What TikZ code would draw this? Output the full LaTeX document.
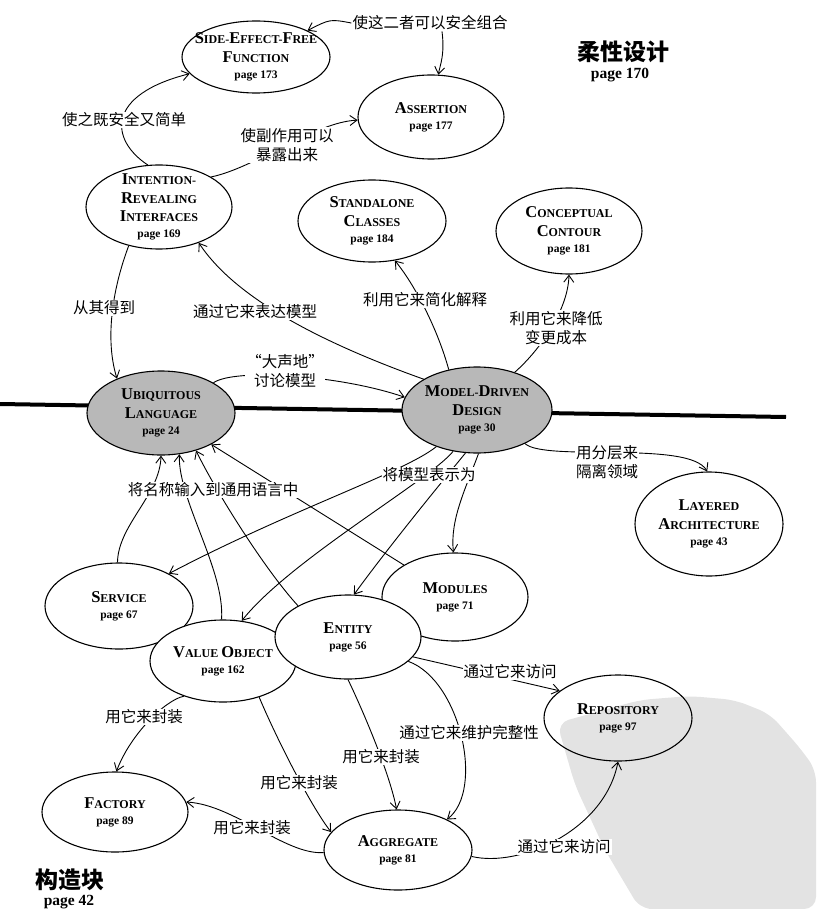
\documentclass[tikz,border=0pt]{standalone}
\usepackage{fontspec}
\setmainfont{Liberation Serif}
\newfontfamily\cjk{Noto Sans CJK SC}
\usetikzlibrary{shapes.geometric,arrows.meta}
\pgfdeclarelayer{back}
\pgfdeclarelayer{mid}
\pgfsetlayers{back,mid,main}
\newcommand{\Cp}[1]{{\fontsize{16.5}{18.5}\selectfont #1}}
\newcommand{\pgn}[1]{{\fontsize{11.5}{13}\selectfont page #1}}
\begin{document}
\begin{tikzpicture}[x=1pt, y=-1pt,
  ell/.style={ellipse, draw, line width=1.1pt, fill=white, inner sep=0pt},
  greyfill/.style={fill=black!28},
  ntext/.style={align=center, font=\bfseries\fontsize{12}{18.5}\selectfont, inner sep=0pt},
  lab/.style={align=center, font=\cjk\fontsize{15.5}{19}\selectfont, fill=white, inner sep=1pt},
  conn/.style={line width=0.9pt, -{Straight Barb[length=7pt,width=10pt]}},
  ttl/.style={font=\cjk\bfseries\fontsize{23}{26}\selectfont, inner sep=0pt},
  ttlpg/.style={font=\bfseries\fontsize{15.5}{17}\selectfont, inner sep=0pt}]
\useasboundingbox (0,0) rectangle (816,909);

\begin{pgfonlayer}{back}
\fill[black!11, rounded corners=12pt] (557,723) -- (640,700) -- (690,696) -- (735,700) -- (770,714) -- (800,748) -- (816,770) -- (816,909) -- (640,909) -- (605,850) -- (575,785) -- cycle;
\end{pgfonlayer}

% ellipses
\node[ell, minimum width=148pt, minimum height=72pt] (seff) at (256,57) {};
\node[ntext] (seff-t) at (seff) {\Cp{S}IDE-\Cp{E}FFECT-\Cp{F}REE\\\Cp{F}UNCTION\\[-2.5pt]\pgn{173}};
\node[ell, minimum width=146pt, minimum height=84pt] (assert) at (431,117) {};
\node[ntext] (assert-t) at (assert) {\Cp{A}SSERTION\\[-2.5pt]\pgn{177}};
\node[ell, minimum width=146pt, minimum height=84pt] (iri) at (159,207) {};
\node[ntext] (iri-t) at (iri) {\Cp{I}NTENTION-\\\Cp{R}EVEALING\\\Cp{I}NTERFACES\\[-2.5pt]\pgn{169}};
\node[ell, minimum width=148pt, minimum height=82pt] (sc) at (372,221) {};
\node[ntext] (sc-t) at (sc) {\Cp{S}TANDALONE\\\Cp{C}LASSES\\[-2.5pt]\pgn{184}};
\node[ell, minimum width=146pt, minimum height=86pt] (cc) at (569,231) {};
\node[ntext] (cc-t) at (cc) {\Cp{C}ONCEPTUAL\\\Cp{C}ONTOUR\\[-2.5pt]\pgn{181}};
\node[ell, greyfill, minimum width=148pt, minimum height=84pt] (ul) at (161,413) {};
\node[ntext] (ul-t) at (ul) {\Cp{U}BIQUITOUS\\\Cp{L}ANGUAGE\\[-2.5pt]\pgn{24}};
\node[ell, greyfill, minimum width=150pt, minimum height=86pt] (mdd) at (477,410) {};
\node[ntext] (mdd-t) at (mdd) {\Cp{M}ODEL-\Cp{D}RIVEN\\\Cp{D}ESIGN\\[-2.5pt]\pgn{30}};
\node[ell, minimum width=148pt, minimum height=104pt] (la) at (709,524) {};
\node[ntext] (la-t) at (la) {\Cp{L}AYERED\\\Cp{A}RCHITECTURE\\[-2.5pt]\pgn{43}};
\node[ell, minimum width=148pt, minimum height=86pt] (svc) at (119,606) {};
\node[ntext] (svc-t) at (svc) {\Cp{S}ERVICE\\[-2.5pt]\pgn{67}};
\node[ell, minimum width=146pt, minimum height=88pt] (mod) at (455,597) {};
\node[ntext] (mod-t) at (mod) {\Cp{M}ODULES\\[-2.5pt]\pgn{71}};
\node[ell, minimum width=146pt, minimum height=82pt] (vo) at (223,661) {};
\node[ntext] (vo-t) at (vo) {\Cp{V}ALUE \Cp{O}BJECT\\[-2.5pt]\pgn{162}};
\node[ell, minimum width=146pt, minimum height=84pt] (ent) at (348,637) {};
\node[ntext] (ent-t) at (ent) {\Cp{E}NTITY\\[-2.5pt]\pgn{56}};
\node[ell, fill=none, minimum width=148pt, minimum height=86pt] (repo) at (618,718) {};
\node[ntext] (repo-t) at (repo) {\Cp{R}EPOSITORY\\[-2.5pt]\pgn{97}};
\node[ell, minimum width=146pt, minimum height=80pt] (fac) at (115,812) {};
\node[ntext] (fac-t) at (fac) {\Cp{F}ACTORY\\[-2.5pt]\pgn{89}};
\node[ell, minimum width=148pt, minimum height=80pt] (agg) at (398,850) {};
\node[ntext] (agg-t) at (agg) {\Cp{A}GGREGATE\\[-2.5pt]\pgn{81}};

% titles
\node[ttl] (tflex) at (623,52) {柔性设计};
\node[ttlpg] (tflexpg) at (620,75) {page 170};
\node[ttl] (tbuild) at (70,880) {构造块};
\node[ttlpg] (tbuildpg) at (69,902) {page 42};

% labels
\node[lab] (lcombine) at (430,23) {使这二者可以安全组合};
\node[lab] (lsafe) at (124,120) {使之既安全又简单};
\node[lab] (lexpose) at (287,145) {使副作用可以\\暴露出来};
\node[lab] (lderive) at (104,308) {从其得到};
\node[lab] (lexpress) at (255,312) {通过它来表达模型};
\node[lab] (lsimplify) at (425,300) {利用它来简化解释};
\node[lab] (lreduce) at (556,328) {利用它来降低\\变更成本};
\node[lab] (lloud) at (285,371) {“大声地”\\讨论模型};
\node[lab] (lnames) at (213,490) {将名称输入到通用语言中};
\node[lab] (lrepr) at (429,475) {将模型表示为};
\node[lab] (llayers) at (607,462) {用分层来\\隔离领域};
\node[lab] (laccess) at (510,672) {通过它来访问};
\node[lab] (linteg) at (469,733) {通过它来维护完整性};
\node[lab] (lence) at (381,757) {用它来封装};
\node[lab] (lencv) at (299,783) {用它来封装};
\node[lab] (lencf) at (144,717) {用它来封装};
\node[lab] (lenca) at (252,828) {用它来封装};
\node[lab] (laccessb) at (564,847) {通过它来访问};

\begin{pgfonlayer}{mid}
\draw[line width=4pt] (0,404) -- (786,417);
\draw[conn] (lcombine.west) .. controls (330,19) .. (seff);
\draw[conn] ([xshift=12pt]lcombine.south) .. controls (445,55) and (440,65) .. (assert);
\draw[conn] (iri.105) .. controls (110,140) and (105,95) .. (seff);
\draw[conn] (iri.30) .. controls (255,168) and (315,122) .. (assert);
\draw[conn] (iri.232) .. controls (112,290) and (105,340) .. (ul.142);
\draw[conn] (mdd.150) .. controls (300,335) and (230,290) .. (iri.-42);
\draw[conn] (mdd.125) .. controls (438,330) and (415,285) .. (sc.-60);
\draw[conn] (mdd.45) .. controls (540,350) and (568,310) .. (cc.-90);
\draw[conn] (ul.30) .. controls (235,368) and (340,375) .. (mdd.170);
\draw[conn] (mdd.222) .. controls (405,472) and (290,510) .. (svc.33);
\draw[conn] (mdd.240) .. controls (430,480) and (290,560) .. (vo.65);
\draw[conn] (mdd.255) .. controls (445,478) and (390,545) .. (ent.82);
\draw[conn] (mdd.272) .. controls (465,490) and (450,520) .. (mod.92);
\draw[conn] (mdd.-35) .. controls (545,462) and (690,440) .. (la.92);
\draw[conn] (svc.92) .. controls (118,525) and (160,495) .. (ul.-90);
\draw[conn] (vo.92) .. controls (225,570) and (178,500) .. (ul.-66);
\draw[conn] (ent.148) .. controls (265,570) and (215,490) .. (ul.-47);
\draw[conn] (mod) -- (ul);
\draw[conn] (ent.-17) -- (repo.155);
\draw[conn] (ent.-22) .. controls (460,680) and (485,790) .. (agg.32);
\draw[conn] (ent.-90) .. controls (365,715) and (390,775) .. (agg.92);
\draw[conn] (vo.-45) .. controls (275,735) and (310,805) .. (agg.165);
\draw[conn] (vo.222) .. controls (165,700) and (130,735) .. (fac.88);
\draw[conn] (agg.182) .. controls (285,855) and (235,805) .. (fac.8);
\draw[conn] (agg.-5) .. controls (520,868) and (605,830) .. (repo.-90);
\end{pgfonlayer}
\end{tikzpicture}
\end{document}
